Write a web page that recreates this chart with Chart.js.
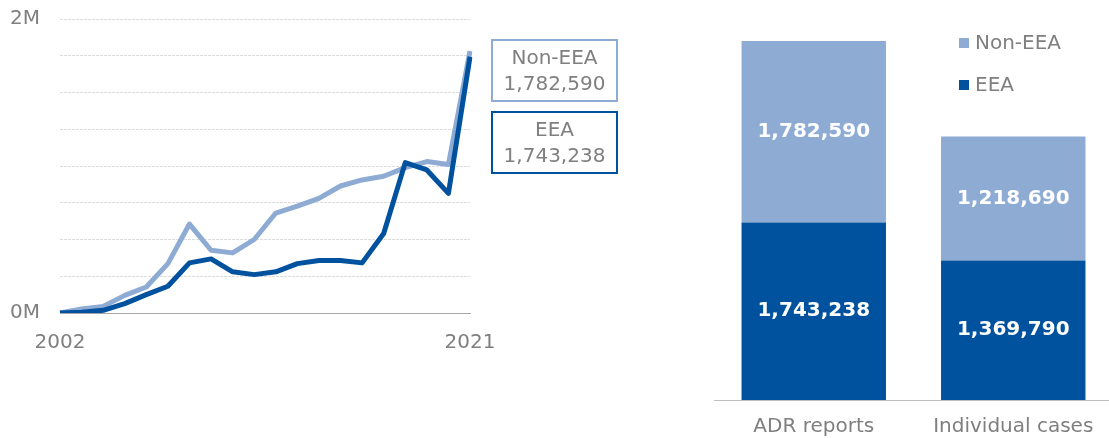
<!DOCTYPE html>
<html>
<head>
<meta charset="utf-8">
<script src="https://cdn.jsdelivr.net/npm/chart.js@4/dist/chart.umd.min.js"></script>
<style>
  html, body { margin: 0; padding: 0; background: #ffffff; overflow: hidden; }
  #wrap { position: relative; width: 1109px; height: 438px; }
  #lineBox { position: absolute; left: 0; top: 0; width: 660px; height: 360px; }
  #barBox { position: absolute; left: 700px; top: 0; width: 413px; height: 438px; }
</style>
</head>
<body>
<div id="wrap">
  <div id="lineBox"><canvas id="lineChart"></canvas></div>
  <div id="barBox"><canvas id="barChart"></canvas></div>
</div>
<script>
// Yearly ADR reports received, 2002-2021
const years = ['2002','2003','2004','2005','2006','2007','2008','2009','2010','2011',
               '2012','2013','2014','2015','2016','2017','2018','2019','2020','2021'];
const eeaYearly = [0, 5000, 18000, 64000, 125000, 182000, 341000, 368000, 280000, 261000,
                   280000, 336000, 357000, 357000, 341000, 541000, 1023000, 973000, 814000, 1743238];
const nonEeaYearly = [0, 27000, 45000, 120000, 177000, 336000, 605000, 427000, 409000, 500000,
                      680000, 727000, 780000, 864000, 905000, 930000, 989000, 1030000, 1010000, 1782590];

// Totals split by origin
const barCategories = ['ADR reports', 'Individual cases'];
const eeaTotals = [1743238, 1369790];
const nonEeaTotals = [1782590, 1218690];

// Axis tick labels that are shown
const yTickLabels = { 0: '0M', 2000000: '2M' };

const FONT = "'DejaVu Sans', Verdana, sans-serif";
const GREY = '#7f7f7f';
const LIGHT = '#8eabd4';
const DARK = '#00529e';

const fmt = v => v.toLocaleString('en-US');

// Boxed end labels to the right of the line chart
const endLabels = {
  id: 'endLabels',
  afterDatasetsDraw(chart) {
    const ctx = chart.ctx;
    const area = chart.chartArea;
    const x = area.right + 22, w = 125, h = 61;
    const order = [1, 0]; // Non-EEA box above EEA box
    const tops = [40, 112];
    ctx.save();
    order.forEach((di, k) => {
      const ds = chart.data.datasets[di];
      const y = tops[k];
      ctx.strokeStyle = ds.borderColor;
      ctx.lineWidth = 2;
      ctx.strokeRect(x, y, w, h);
      ctx.fillStyle = GREY;
      ctx.font = '20px ' + FONT;
      ctx.textAlign = 'center';
      ctx.textBaseline = 'middle';
      ctx.fillText(ds.label, x + w / 2, y + 19);
      ctx.fillText(fmt(ds.data[ds.data.length - 1]), x + w / 2, y + 45);
    });
    ctx.restore();
  }
};

new Chart(document.getElementById('lineChart'), {
  type: 'line',
  data: {
    labels: years,
    datasets: [
      { label: 'EEA', data: eeaYearly, borderColor: DARK, borderWidth: 5, pointRadius: 0, tension: 0, borderJoinStyle: 'round' },
      { label: 'Non-EEA', data: nonEeaYearly, borderColor: LIGHT, borderWidth: 5, pointRadius: 0, tension: 0, borderJoinStyle: 'round' }
    ]
  },
  options: {
    responsive: true,
    maintainAspectRatio: false,
    animation: false,
    layout: { padding: { top: 19, right: 190, left: 0, bottom: 0 } },
    plugins: { legend: { display: false }, tooltip: { enabled: false } },
    scales: {
      x: {
        grid: { display: false, drawTicks: false },
        border: { display: true, color: '#a6a6a6', width: 1 },
        afterFit(scale) { scale.height = 47; },
        ticks: {
          autoSkip: false, maxRotation: 0, padding: 18, color: GREY,
          font: { family: FONT, size: 20 },
          callback(v, i, ticks) { return (i === 0 || i === ticks.length - 1) ? this.getLabelForValue(v) : ''; }
        }
      },
      y: {
        min: 0, max: 2000000,
        grid: { color: '#dcdcdc', lineWidth: 1, drawTicks: false },
        border: { display: false, dash: [3, 1] },
        afterFit(scale) { scale.width = 60; scale.paddingTop = 0; scale.paddingBottom = 0; },
        ticks: {
          stepSize: 250000, padding: 20, color: GREY,
          font: { family: FONT, size: 20 },
          callback(v) { return yTickLabels[v] !== undefined ? yTickLabels[v] : ''; }
        }
      }
    }
  },
  plugins: [endLabels]
});

// Value labels inside the stacked bars, plus a two-row legend
const barDecor = {
  id: 'barDecor',
  afterDatasetsDraw(chart) {
    const ctx = chart.ctx;
    ctx.save();
    ctx.font = 'bold 20px ' + FONT;
    ctx.fillStyle = '#ffffff';
    ctx.textAlign = 'center';
    ctx.textBaseline = 'middle';
    chart.data.datasets.forEach((ds, di) => {
      chart.getDatasetMeta(di).data.forEach((el, i) => {
        ctx.fillText(fmt(ds.data[i]), el.x, (el.y + el.base) / 2);
      });
    });
    // legend: Non-EEA first, then EEA
    ctx.font = '20px ' + FONT;
    ctx.textAlign = 'left';
    const rows = [1, 0];
    const ys = [43, 85];
    rows.forEach((di, k) => {
      const ds = chart.data.datasets[di];
      ctx.fillStyle = ds.backgroundColor;
      ctx.fillRect(259, ys[k] - 5, 10, 10);
      ctx.fillStyle = GREY;
      ctx.fillText(ds.label, 275, ys[k] + 1);
    });
    ctx.restore();
  }
};

new Chart(document.getElementById('barChart'), {
  type: 'bar',
  data: {
    labels: barCategories,
    datasets: [
      { label: 'EEA', data: eeaTotals, backgroundColor: DARK, borderWidth: 0 },
      { label: 'Non-EEA', data: nonEeaTotals, backgroundColor: LIGHT, borderWidth: 0 }
    ]
  },
  options: {
    responsive: true,
    maintainAspectRatio: false,
    animation: false,
    layout: { padding: { top: 3, right: 0, left: 14, bottom: 0 } },
    plugins: { legend: { display: false }, tooltip: { enabled: false } },
    datasets: { bar: { categoryPercentage: 1, barPercentage: 0.724 } },
    scales: {
      x: {
        stacked: true,
        grid: { display: false, drawTicks: false },
        border: { display: true, color: '#bfbfbf', width: 1 },
        afterFit(scale) { scale.height = 38; },
        ticks: { padding: 15, color: GREY, font: { family: FONT, size: 20 } }
      },
      y: {
        stacked: true, display: false, min: 0, max: 3900000
      }
    }
  },
  plugins: [barDecor]
});
</script>
</body>
</html>
